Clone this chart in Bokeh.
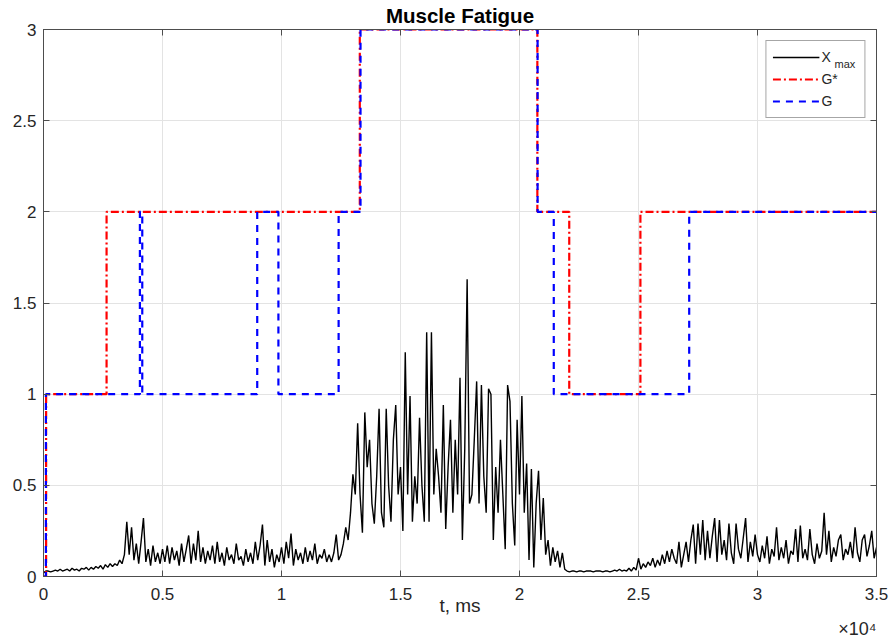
import numpy as np
from bokeh.plotting import figure
from bokeh.models import Range1d, LinearAxis, FixedTicker, Legend, LegendItem, Title
from bokeh.core.properties import value
from bokeh.embed import file_html
from bokeh.resources import INLINE

# ---- data ----
t_step_ms = 100
xmax_vals = [
    0.02, 0.03, 0.03, 0.025, 0.03, 0.035, 0.03, 0.04, 0.03, 0.035,
    0.04, 0.03, 0.045, 0.035, 0.04, 0.03, 0.045, 0.04, 0.05, 0.035,
    0.05, 0.04, 0.055, 0.045, 0.06, 0.04, 0.065, 0.05, 0.07, 0.055,
    0.07, 0.06, 0.09, 0.07, 0.12, 0.30, 0.12, 0.27, 0.09, 0.18,
    0.07, 0.19, 0.32, 0.08, 0.15, 0.06, 0.17, 0.08, 0.13, 0.07,
    0.15, 0.08, 0.17, 0.07, 0.16, 0.09, 0.14, 0.06, 0.18, 0.08,
    0.15, 0.225, 0.07, 0.18, 0.09, 0.25, 0.08, 0.16, 0.07, 0.14,
    0.09, 0.17, 0.07, 0.19, 0.08, 0.13, 0.06, 0.16, 0.09, 0.12,
    0.07, 0.18, 0.09, 0.11, 0.06, 0.15, 0.08, 0.13, 0.07, 0.19,
    0.09, 0.17, 0.285, 0.06, 0.2, 0.08, 0.15, 0.05, 0.12, 0.08,
    0.16, 0.07, 0.19, 0.1, 0.235, 0.06, 0.15, 0.09, 0.13, 0.07,
    0.16, 0.08, 0.14, 0.09, 0.18, 0.07, 0.12, 0.1, 0.15, 0.08,
    0.12, 0.08, 0.13, 0.23, 0.09, 0.12, 0.18, 0.27, 0.2, 0.35,
    0.56, 0.45, 0.84, 0.45, 0.24, 0.9, 0.6, 0.75, 0.4, 0.29,
    0.55, 0.92, 0.35, 0.27, 0.92, 0.5, 0.3, 0.75, 0.94, 0.45,
    0.6, 0.25, 1.23, 0.45, 0.99, 0.3, 0.55, 0.4, 0.87, 0.5,
    0.3, 1.34, 0.3, 1.34, 0.45, 0.7, 0.55, 0.35, 0.94, 0.26,
    0.6, 0.86, 0.35, 0.75, 0.45, 1.09, 0.2, 0.7, 1.63, 0.4,
    0.45, 0.75, 1.07, 0.4, 1.05, 0.55, 0.35, 1.03, 1.0, 0.2,
    0.6, 0.35, 0.75, 0.45, 0.15, 1.05, 0.96, 0.4, 0.17, 0.86,
    0.45, 0.99, 0.35, 0.62, 0.09, 0.59, 0.05, 0.4, 0.58, 0.2,
    0.43, 0.12, 0.2, 0.06, 0.16, 0.08, 0.14, 0.05, 0.13, 0.04,
    0.03, 0.025, 0.03, 0.03, 0.025, 0.03, 0.03, 0.025, 0.03, 0.03,
    0.03, 0.025, 0.03, 0.03, 0.03, 0.025, 0.03, 0.03, 0.025, 0.03,
    0.035, 0.03, 0.04, 0.03, 0.035, 0.03, 0.045, 0.03, 0.05, 0.035,
    0.1, 0.04, 0.07, 0.05, 0.08, 0.06, 0.1, 0.05, 0.09, 0.06,
    0.12, 0.07, 0.14, 0.08, 0.15, 0.1, 0.07, 0.19, 0.05, 0.12,
    0.19, 0.08, 0.2, 0.285, 0.07, 0.29, 0.12, 0.31, 0.09, 0.25,
    0.1, 0.22, 0.32, 0.08, 0.31, 0.12, 0.2, 0.09, 0.29, 0.13,
    0.07, 0.29, 0.15, 0.1, 0.21, 0.32, 0.08, 0.19, 0.11, 0.23,
    0.12, 0.08, 0.17, 0.1, 0.22, 0.07, 0.15, 0.11, 0.27, 0.09,
    0.16, 0.1, 0.2, 0.07, 0.14, 0.12, 0.26, 0.08, 0.28, 0.1,
    0.15, 0.09, 0.26, 0.12, 0.07, 0.18, 0.1, 0.14, 0.35, 0.12,
    0.25, 0.08, 0.16, 0.11, 0.2, 0.23, 0.09, 0.15, 0.12, 0.19,
    0.1, 0.27, 0.13, 0.08, 0.2, 0.23, 0.11, 0.17, 0.25, 0.1,
    0.16,
]
xmax_t = [i * t_step_ms for i in range(len(xmax_vals))]

gstar_t = [0, 110, 2650, 13290, 20750, 22090, 25080, 35000]
gstar_v = [0, 1, 2, 3, 2, 1, 2, 2]

g_t = [0, 100, 4050, 4150, 8980, 9870, 12400, 13320, 20760, 21440, 27130, 35000]
g_v = [0, 1, 2, 1, 2, 1, 2, 3, 2, 1, 2, 2]

x_ticks = [0, 5000, 10000, 15000, 20000, 25000, 30000, 35000]
x_tick_labels = ["0", "0.5", "1", "1.5", "2", "2.5", "3", "3.5"]
y_ticks = [0, 0.5, 1, 1.5, 2, 2.5, 3]
y_tick_labels = ["0", "0.5", "1", "1.5", "2", "2.5", "3"]

FONT = "Liberation Sans"
AX = "#4d4d4d"
TXT = "#262626"

p = figure(width=890, height=639, x_range=Range1d(0, 35000), y_range=Range1d(0, 3),
           output_backend="svg", toolbar_location=None,
           min_border_left=43, min_border_right=14, min_border_top=29, min_border_bottom=63)
p.background_fill_color = "white"
p.border_fill_color = "white"
p.outline_line_color = AX
p.outline_line_width = 1

p.title.text = "Muscle Fatigue"
p.title.align = "center"
p.title.vertical_align = "middle"
p.title.text_font = FONT
p.title.text_font_size = "20.5px"
p.title.text_font_style = "bold"
p.title.text_color = "black"
p.title.standoff = 3

def style_axis(ax):
    ax.axis_line_color = AX
    ax.major_tick_line_color = AX
    ax.major_tick_in = 6
    ax.major_tick_out = 0
    ax.minor_tick_line_color = None
    ax.major_label_text_font = FONT
    ax.major_label_text_color = TXT
    ax.major_label_text_font_size = "17px"

xa = p.xaxis[0]
ya = p.yaxis[0]
xa.ticker = FixedTicker(ticks=x_ticks)
xa.major_label_overrides = {k: v for k, v in zip(x_ticks, x_tick_labels)}
ya.ticker = FixedTicker(ticks=y_ticks)
ya.major_label_overrides = {k: v for k, v in zip(y_ticks, y_tick_labels)}
style_axis(xa)
style_axis(ya)
xa.major_label_standoff = 11
ya.major_label_standoff = 7
xa.axis_label = "t, ms"
xa.axis_label_text_font = FONT
xa.axis_label_text_font_size = "19px"
xa.axis_label_text_font_style = "normal"
xa.axis_label_text_color = TXT
xa.axis_label_standoff = -8

top = LinearAxis(ticker=FixedTicker(ticks=x_ticks))
right = LinearAxis(ticker=FixedTicker(ticks=y_ticks))
style_axis(top)
style_axis(right)
top.major_label_overrides = {k: "" for k in x_ticks}
right.major_label_overrides = {k: "" for k in y_ticks}
top.major_label_standoff = 0
right.major_label_standoff = 0
p.add_layout(top, "above")
p.add_layout(right, "right")

# exponent note of the x axis
p.add_layout(Title(text="\u00d710\u2074", align="right", text_font=FONT, text_font_size="18px",
                   text_font_style="normal", text_color=TXT, standoff=-3), "below")

p.xgrid.ticker = FixedTicker(ticks=x_ticks)
p.ygrid.ticker = FixedTicker(ticks=y_ticks)
p.grid.grid_line_color = "#e3e3e3"
p.grid.grid_line_width = 1

r1 = p.line(xmax_t, xmax_vals, line_color="black", line_width=1.4)
r2 = p.step(gstar_t, gstar_v, mode="after", line_color="#ff0000", line_width=2.2,
            line_dash="8 3 2 3")
r3 = p.step(g_t, g_v, mode="after", line_color="#0000ff", line_width=2.2,
            line_dash="7 6")

legend = Legend(items=[LegendItem(label="X" + "\u00a0" * 7, renderers=[r1]),
                       LegendItem(label="G*", renderers=[r2]),
                       LegendItem(label="G", renderers=[r3])],
                location="top_right", margin=11, padding=6, spacing=2,
                glyph_width=47, glyph_height=20, label_height=20, label_standoff=2,
                label_text_font=FONT, label_text_font_size="14px", label_text_color=TXT,
                border_line_color=AX, border_line_width=1,
                background_fill_color="white", background_fill_alpha=0)
p.add_layout(legend)

# subscript of the legend entry X_max
p.text(x=[33235], y=[2.812], text=["max"], text_font=value(FONT), text_font_size="11px",
       text_color=TXT, text_baseline="middle", text_align="left")

open("out.html", "w").write(file_html(p, INLINE))
